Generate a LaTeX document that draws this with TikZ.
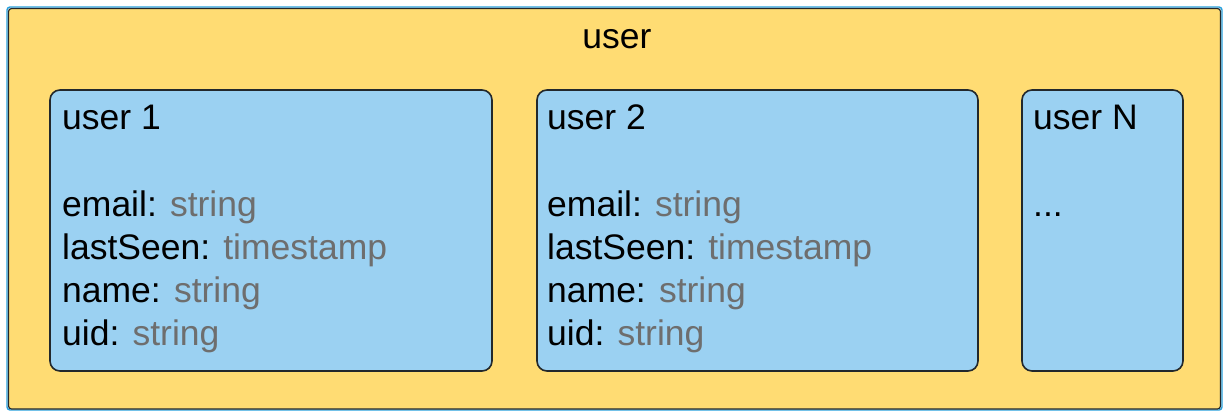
\documentclass[tikz,border=0pt]{standalone}
\usepackage{fontspec}
\setmainfont{Liberation Sans}
\definecolor{panel}{RGB}{255,220,115}
\definecolor{record}{RGB}{155,209,242}
\definecolor{edge}{RGB}{34,40,44}
\definecolor{halo}{RGB}{40,160,220}
\definecolor{typegray}{RGB}{110,110,110}
\tikzset{
  container/.style={draw=edge, line width=1.2pt, fill=panel, rounded corners=3pt},
  recordbox/.style={draw=edge, line width=1.6pt, fill=record, rounded corners=10pt},
  lbl/.style={anchor=base west, inner sep=0pt, font=\fontsize{35.5}{42}\selectfont, text=black},
  ttl/.style={anchor=base, inner sep=0pt, font=\fontsize{35.5}{42}\selectfont, text=black},
}
\newcommand{\ftype}[1]{\textcolor{typegray}{#1}}
\begin{document}
\begin{tikzpicture}[x=1pt,y=-1pt]
\useasboundingbox (0,0) rectangle (1227,410);
% outer collection
\draw[halo, line width=1.4pt, rounded corners=3pt] (7,7) rectangle (1222,410);
\draw[container] (8.5,8.5) rectangle (1220.5,409);
\node[ttl] (title) at (617,48) {user};
% documents
\draw[recordbox] (50,90) rectangle (492,371) coordinate (b1);
\draw[recordbox] (537,90) rectangle (978,371) coordinate (b2);
\draw[recordbox] (1022,90) rectangle (1183,371) coordinate (bN);
% user 1
\node[lbl] (u1) at (62,129) {user 1};
\node[lbl] (u1a) at (62,216) {email: \ftype{string}};
\node[lbl] (u1b) at (62,259) {lastSeen: \ftype{timestamp}};
\node[lbl] (u1c) at (62,302) {name: \ftype{string}};
\node[lbl] (u1d) at (62,345) {uid: \ftype{string}};
% user 2
\node[lbl] (u2) at (547,129) {user 2};
\node[lbl] (u2a) at (547,216) {email: \ftype{string}};
\node[lbl] (u2b) at (547,259) {lastSeen: \ftype{timestamp}};
\node[lbl] (u2c) at (547,302) {name: \ftype{string}};
\node[lbl] (u2d) at (547,345) {uid: \ftype{string}};
% user N
\node[lbl] (uN) at (1033,129) {user N};
\node[lbl] (uNa) at (1033,216) {...};
\end{tikzpicture}
\end{document}
